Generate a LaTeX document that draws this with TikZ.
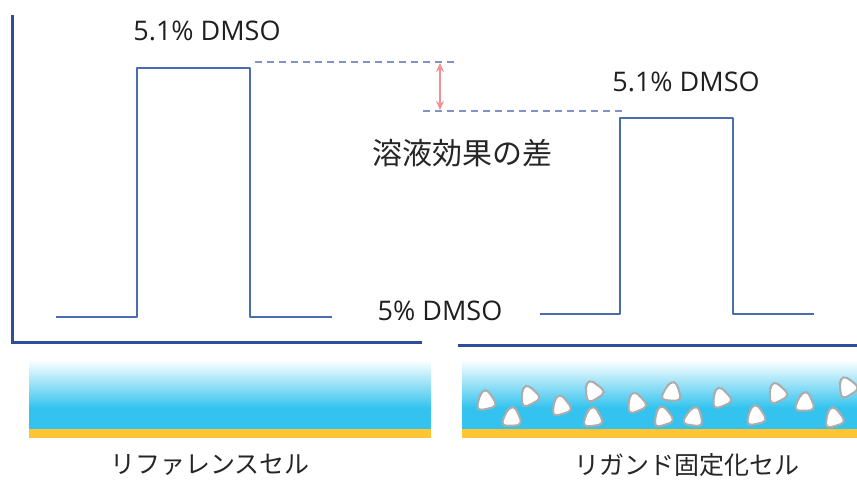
\documentclass[tikz,border=0pt]{standalone}
\usepackage{fontspec}
\setmainfont{Noto Sans CJK JP}
\newfontfamily\latinfont{Open Sans}
\usetikzlibrary{arrows.meta}

\definecolor{axisblue}{HTML}{2E4E9A}
\definecolor{traceblue}{HTML}{4B6CB3}
\definecolor{dashblue}{HTML}{7F93C8}
\definecolor{gapred}{HTML}{EE3340}
\definecolor{cellcyan}{HTML}{33C3EE}
\definecolor{chipgold}{HTML}{FFC535}

\tikzset{
	axisline/.style={draw=axisblue,line width=3pt},
	trace/.style={draw=traceblue,line width=2pt,line join=round},
	level/.style={draw=dashblue,line width=2pt,dash pattern=on 7pt off 5pt},
	conc/.style={font=\latinfont\fontsize{27}{31}\selectfont,text=black!88},
	cellname/.style={font=\fontsize{25}{30}\selectfont,text=black!85},
	ligand/.pic={
		\filldraw[fill=white,draw=gray!65,line width=2pt,rounded corners=5pt,scale=1.5]
			(-7,7) -- (-5,-3) -- (-1,-8) -- (3,-3) -- (7,4) -- (0,6) -- cycle;
	}
}

\begin{document}
\begin{tikzpicture}[x=1pt,y=-1pt]
		\useasboundingbox (0,0) rectangle (857,480);

		% axes
		\draw [axisline] (12,15) -- (12,342) -- (422,342);
		\draw [axisline] (458,345) -- (857,345);

		% reference cell signal
		\draw [trace] (56,317) -- (137,317) -- (137,68) -- (250,68) -- (250,317) -- (332,317);
		\node [conc] (refhigh) at (207,31) {5.1\% DMSO};

		% ligand cell signal
		\draw [trace] (540,314) -- (620,314) -- (620,118) -- (733,118) -- (733,314) -- (814,314);
		\node [conc] (ligHigh) at (686,82) {5.1\% DMSO};

		\node [conc] (low) at (440,311) {5\% DMSO};

		% difference between the two plateaus
		\draw [level] (255,62) -- (455,62);
		\draw [level] (423,111) -- (624,111);
		\coordinate (gtop) at (440,63);
		\coordinate (gbot) at (440,110);
		\draw [{Stealth[length=9pt,width=8pt]}-{Stealth[length=9pt,width=8pt]},draw=gapred!55,fill=gapred,line width=2pt] (gtop) -- (gbot);
		\node [font=\fontsize{30}{34}\selectfont,text=black!85] (diff) at (462,153) {溶液効果の差};

		% sensor cells
		\shade [top color=white,bottom color=cellcyan] (29,360) rectangle (431,408);
		\fill [cellcyan] (29,407) rectangle (431,430);
		\fill [chipgold] (29,429) rectangle (431,438);
		\shade [top color=white,bottom color=cellcyan] (462,360) rectangle (857,408);
		\fill [cellcyan] (462,407) rectangle (857,430);
		\fill [chipgold] (462,429) rectangle (857,438);

		% immobilised ligand
		\foreach \x/\y/\r in {487/400/0,530/395/15,513/417/-10,562/405/5,594/390/20,594/417/-5,
			637/402/10,673/392/-15,664/416/5,695/417/-20,722/397/10,757/415/0,778/392/15,
			806/402/-10,835/417/5,848/386/20}
			\pic [rotate=\r] at (\x,\y) {ligand};

		\node [cellname] (refcell) at (210,465) {リファレンスセル};
		\node [cellname] (ligcell) at (687,465) {リガンド固定化セル};
	\end{tikzpicture}
\end{document}
